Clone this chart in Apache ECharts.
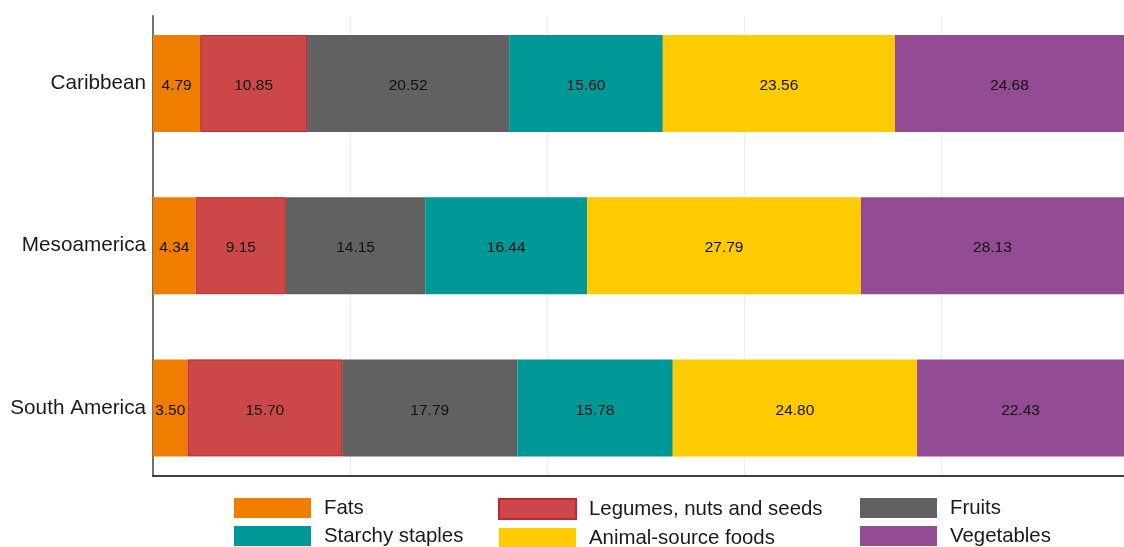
<!DOCTYPE html>
<html>
<head>
<meta charset="utf-8">
<script src="https://cdn.jsdelivr.net/npm/echarts@6/dist/echarts.min.js"></script>
<style>
html,body{margin:0;padding:0;background:#fff;}
#chart{width:1124px;height:547px;}
</style>
</head>
<body>
<div id="chart"></div>
<script>
const regions = ['Caribbean', 'Mesoamerica', 'South America'];
const fats = [4.79, 4.34, 3.50];
const legumes = [10.85, 9.15, 15.70];
const fruits = [20.52, 14.15, 17.79];
const starchy = [15.60, 16.44, 15.78];
const animal = [23.56, 27.79, 24.80];
const vegetables = [24.68, 28.13, 22.43];
const xTicks = [0, 20, 40, 60, 80];

// visible part of the 0-100 axis (the chart is cropped on the right)
const xMax = 98.58;

const seriesDefs = [
  {name: 'Fats', data: fats, color: '#EF7D00'},
  {name: 'Legumes, nuts and seeds', data: legumes, color: '#CB4748', border: '#C4262B'},
  {name: 'Fruits', data: fruits, color: '#616161'},
  {name: 'Starchy staples', data: starchy, color: '#009797'},
  {name: 'Animal-source foods', data: animal, color: '#FECB00'},
  {name: 'Vegetables', data: vegetables, color: '#934C94'}
];

const font = '"Liberation Sans", Arial, sans-serif';
const chart = echarts.init(document.getElementById('chart'), null, {renderer: 'canvas'});

const legendBase = {
  orient: 'vertical', top: 498, padding: 0, itemGap: 8,
  itemWidth: 77, itemHeight: 20, icon: 'rect',
  textStyle: {fontSize: 20.4, color: '#1a1a1a', fontFamily: font, padding: [5, 0, 0, 8]}
};

chart.setOption({
  animation: false,
  textStyle: {fontFamily: font},
  grid: [
    {left: 153, right: 0, top: 2.4, height: 486.6},
    {left: 153, right: 0, top: 16, bottom: 71}
  ],
  legend: [
    Object.assign({left: 234, data: ['Fats', 'Starchy staples']}, legendBase),
    Object.assign({left: 498, data: ['Legumes, nuts and seeds', 'Animal-source foods']}, legendBase),
    Object.assign({left: 860, data: ['Fruits', 'Vegetables']}, legendBase)
  ],
  xAxis: [
    {gridIndex: 0, type: 'value', min: xTicks[0], max: xMax, show: false},
    {gridIndex: 1, type: 'value', min: xTicks[0], max: xMax, interval: xTicks[1] - xTicks[0],
     axisLabel: {show: false}, axisTick: {show: false},
     axisLine: {show: true, onZero: false, lineStyle: {color: '#000', width: 1.5}},
     splitLine: {show: true, lineStyle: {color: '#EAF0F2', width: 1.2}}}
  ],
  yAxis: [
    {gridIndex: 0, type: 'category', data: regions, inverse: true,
     axisLine: {show: false}, axisTick: {show: false}, splitLine: {show: false},
     axisLabel: {fontSize: 20.7, color: '#1a1a1a', margin: 7, fontFamily: font, padding: [6, 0, 0, 0]}},
    {gridIndex: 1, type: 'value', min: 0, max: 1,
     axisLabel: {show: false}, axisTick: {show: false}, splitLine: {show: false},
     axisLine: {show: true, onZero: false, lineStyle: {color: '#707070', width: 2}}}
  ],
  series: seriesDefs.map(s => ({
    name: s.name, type: 'bar', stack: 'total', xAxisIndex: 0, yAxisIndex: 0,
    barWidth: 97, data: s.data, clip: true,
    itemStyle: s.border ? {color: s.color, borderColor: s.border, borderWidth: 1} : {color: s.color},
    label: {show: true, position: 'inside', fontSize: 15.5, color: '#111', fontFamily: font,
            offset: [0, 2.5], formatter: p => Number(p.value).toFixed(2)},
    emphasis: {disabled: true}
  }))
});
</script>
</body>
</html>
